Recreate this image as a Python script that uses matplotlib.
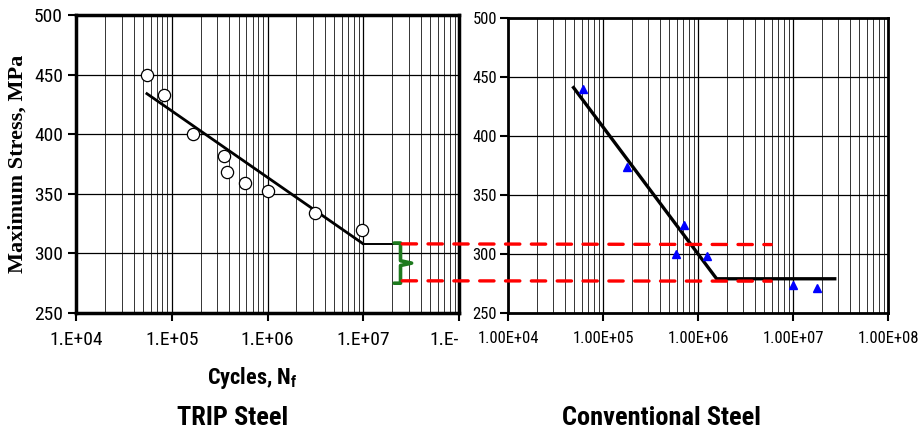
import numpy as np
import matplotlib
matplotlib.use("Agg")
import matplotlib.pyplot as plt
from matplotlib.patches import ConnectionPatch, PathPatch
from matplotlib.path import Path
from matplotlib.ticker import LogLocator, NullFormatter

plt.rcParams['font.family'] = ['Roboto Condensed', 'Liberation Sans', 'DejaVu Sans']
plt.rcParams['mathtext.fontset'] = 'custom'
plt.rcParams['mathtext.rm'] = 'Roboto Condensed'
plt.rcParams['mathtext.bf'] = 'Roboto Condensed:bold'

# TRIP steel: data points and fitted S-N line
trip_cycles = [5.5e4, 8.3e4, 1.65e5, 3.5e5, 3.8e5, 5.8e5, 1.0e6, 3.1e6, 9.6e6]
trip_stress = [450, 433, 400, 382, 368, 359, 352, 334, 320]
trip_fit_cycles = [5.5e4, 1.0e7, 2.7e7]
trip_fit_stress = [434, 308, 308]

# Conventional steel
conv_cycles = [6.2e4, 1.8e5, 7.1e5, 5.9e5, 1.23e6, 1.0e7, 1.8e7]
conv_stress = [440, 374, 325, 300, 298, 274, 271]
conv_fit_cycles = [4.9e4, 1.57e6, 2.75e7]
conv_fit_stress = [441, 279, 279]

# endurance limits (red dashed lines) and their extent
limits = [308, 277]
limit_start = 2.55e7   # in TRIP axes
limit_end = 5.9e6      # in conventional axes

decades = [1e4, 1e5, 1e6, 1e7, 1e8]
# last label is cut off by the right panel in the original
trip_xlabels = ["1.E+04", "1.E+05", "1.E+06", "1.E+07", "1.E-"]
conv_xlabels = ["1.00E+04", "1.00E+05", "1.00E+06", "1.00E+07", "1.00E+08"]
yticks = [250, 300, 350, 400, 450, 500]

W, H = 923, 430
fig = plt.figure(figsize=(W / 100, H / 100), dpi=100)
ax1 = fig.add_axes([76 / W, 1 - 313 / H, 383 / W, 298 / H])
ax2 = fig.add_axes([508 / W, 1 - 313 / H, 380 / W, 295 / H])


def style_axes(ax, labels, fs, spine_w, ypad):
    ax.set_xscale("log")
    ax.set_xlim(1e4, 1e8)
    ax.set_ylim(250, 500)
    ax.set_xticks(decades)
    ax.set_xticklabels(labels)
    ax.set_yticks(yticks)
    ax.xaxis.set_minor_locator(LogLocator(base=10, subs=np.arange(2, 10)))
    ax.xaxis.set_minor_formatter(NullFormatter())
    ax.tick_params(axis="x", which="major", length=6, width=1.5, pad=7,
                   labelsize=fs, direction="out")
    ax.tick_params(axis="y", which="major", length=6, width=1.5, pad=ypad,
                   labelsize=fs, direction="out")
    ax.tick_params(which="minor", length=0)
    ax.grid(True, which="major", color="black", lw=0.9)
    ax.grid(True, which="minor", axis="x", color="#333333", lw=0.7)
    for s in ax.spines.values():
        s.set_linewidth(spine_w)
        s.set_zorder(5)
    ax.set_axisbelow(True)


style_axes(ax1, trip_xlabels, 14, 2.5, 3.4)
style_axes(ax2, conv_xlabels, 12, 2.0, 2.0)
ax1.get_xticklabels()[-1].set_ha("right")

# TRIP panel
ax1.plot(trip_fit_cycles[:2], trip_fit_stress[:2], color="black", lw=2, zorder=3)
ax1.plot(trip_fit_cycles[1:], trip_fit_stress[1:], color="black", lw=1.4, zorder=3)
ax1.plot(trip_cycles, trip_stress, "o", ms=8.8, mfc="white", mec="black",
         mew=0.9, zorder=4)

# conventional panel
ax2.plot(conv_fit_cycles, conv_fit_stress, color="black", lw=2.4, zorder=3)
ax2.plot(conv_cycles, conv_stress, "^", ms=6, color="blue", zorder=4)

ax1.set_ylabel("Maximum Stress, MPa", family="Liberation Serif",
               fontweight="bold", fontsize=16, va="center")
ax1.yaxis.set_label_coords(-0.153, 0.5)
ax1.set_xlabel(r"Cycles, $\mathbf{N_f}$", fontweight="bold", fontsize=16,
               va="center")
ax1.xaxis.set_label_coords(0.46, -0.218)

ax1.text(0.41, -0.352, "TRIP Steel", transform=ax1.transAxes, ha="center",
         va="center", fontsize=19, fontweight="bold")
ax2.text(0.405, -0.356, "Conventional Steel", transform=ax2.transAxes,
         ha="center", va="center", fontsize=19, fontweight="bold")

# red dashed lines linking the two panels
for lim in limits:
    con = ConnectionPatch(xyA=(limit_start, lim), coordsA=ax1.transData,
                          xyB=(limit_end, lim), coordsB=ax2.transData,
                          color="red", lw=2.4, linestyle=(0, (4.3, 3.45)),
                          zorder=6)
    fig.add_artist(con)

# green brace between the two limits
top, bot = limits[0] + 0.7, limits[1] - 2
mid = (top + bot) / 2
xl, xv, xr = 2.1e7, 2.45e7, 3.2e7
verts = [(xl, top), (xv, top), (xv, mid + 2), (xr, mid), (xv, mid - 2),
         (xv, bot), (xl, bot)]
brace = PathPatch(Path(verts), fill=False, edgecolor="#1e7a1e", lw=2.6,
                  joinstyle="round", capstyle="round", clip_on=False, zorder=7)
ax1.add_patch(brace)

fig.savefig("out.png", dpi=100, facecolor="white")
